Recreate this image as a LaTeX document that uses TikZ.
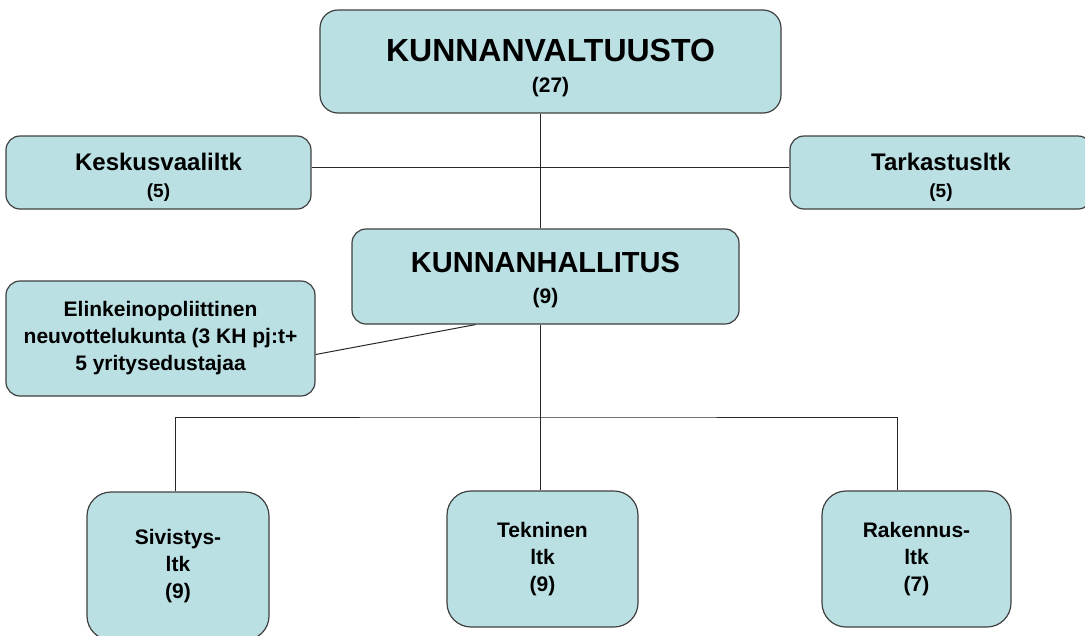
\documentclass[tikz,border=0pt]{standalone}
\usepackage{fontspec}
\setmainfont{Liberation Sans}
\definecolor{boxfill}{RGB}{186,224,227}
\definecolor{boxline}{RGB}{64,64,64}
\definecolor{wire}{RGB}{40,40,40}

\begin{document}
\begin{tikzpicture}[x=1pt,y=-1pt,inner sep=0pt]
    \tikzstyle{organ}=[rectangle,draw=boxline,fill=boxfill,line width=1.2pt,rounded corners=14pt,align=center,font=\bfseries]
    \tikzstyle{link}=[draw=wire,line width=1pt]
    \useasboundingbox (0,0) rectangle (1085,635);
    \clip (0,0) rectangle (1085,635);

    % valtuusto and its committees
    \node[organ,minimum width=461,minimum height=103,rounded corners=18pt,font=\bfseries\fontsize{21}{31}\selectfont] (kv) at (550.5,61.5)
        {\rule{0pt}{36pt}{\fontsize{32}{31}\selectfont KUNNANVALTUUSTO}\\(27)};
    \node[organ,minimum width=305,minimum height=73,font=\bfseries\fontsize{19}{27}\selectfont] (ksv) at (158.5,172.5)
        {\rule{0pt}{26pt}{\fontsize{24}{27}\selectfont Keskusvaaliltk}\\(5)};
    \node[organ,minimum width=302,minimum height=73,font=\bfseries\fontsize{19}{27}\selectfont] (tark) at (941,172.5)
        {\rule{0pt}{26pt}{\fontsize{24}{27}\selectfont Tarkastusltk}\\(5)};

    % hallitus
    \node[organ,minimum width=387,minimum height=95,font=\bfseries\fontsize{21}{31}\selectfont] (kh) at (545.5,276.5)
        {\rule{0pt}{28pt}{\fontsize{29}{31}\selectfont KUNNANHALLITUS}\\(9)};
    \node[organ,minimum width=309,minimum height=115,font=\bfseries\fontsize{21}{27}\selectfont] (elk) at (160.5,338.5)
        {Elinkeinopoliittinen\\neuvottelukunta (3 KH pj:t+\\5 yritysedustajaa};

    % lautakunnat
    \foreach \n/\x/\y/\w/\h/\t in {siv/178/566/182/148/{Sivistys-\\ltk\\(9)},
                                  tek/542.5/559/191/136/{Tekninen\\ltk\\(9)},
                                  rak/916.5/559/189/136/{Rakennus-\\ltk\\(7)}} {
        \node[organ,minimum width=\w,minimum height=\h,rounded corners=24pt,font=\bfseries\fontsize{21}{27}\selectfont] (\n) at (\x,\y) {\t};
    };

    \coordinate (spine) at (540,167);
    \coordinate (fork) at (540,417);

    \draw[link] (kv.south -| spine) -- (kh.north -| spine);
    \draw[link] (ksv.east |- spine) -- (tark.west |- spine);
    \draw[link] ([yshift=-16pt]elk.east) -- ([xshift=-70pt]kh.south);
    \draw[link] (kh.south -| fork) -- (tek.north -| fork);
    \draw[link] ([xshift=-3pt]siv.north) |- (fork) -| ([xshift=-19pt]rak.north);
\end{tikzpicture}
\end{document}
